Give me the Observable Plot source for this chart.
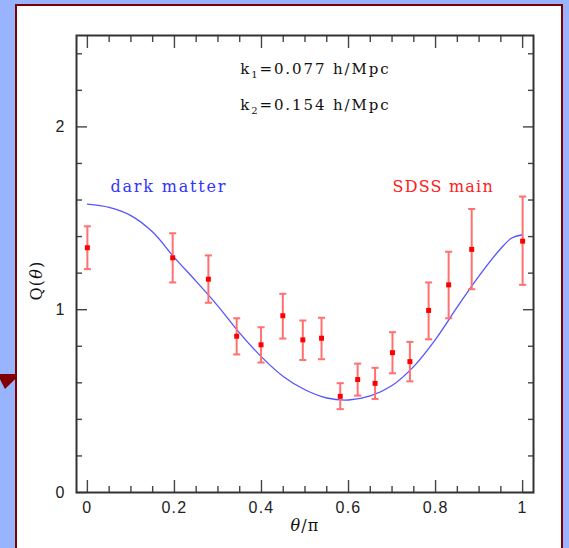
<!DOCTYPE html>
<html><head><meta charset="utf-8">
<script src="https://cdn.jsdelivr.net/npm/d3@7"></script>
<script src="https://cdn.jsdelivr.net/npm/@observablehq/plot@0.6"></script>
<style>
html,body{margin:0;padding:0;width:569px;height:548px;overflow:hidden;background:#99b4ff;}
#panel{position:absolute;left:15px;top:4px;width:544px;height:570px;background:#fff;border:2px solid #800000;}
#arrow{position:absolute;left:0;top:374px;width:15px;height:15px;background:#800000;clip-path:polygon(0 0,100% 0,100% 35%,33% 100%,0 35%);}
#chart{position:absolute;left:0;top:0;}
</style></head>
<body>
<div id="panel"></div>
<div id="arrow"></div>
<div id="chart"></div>
<script>
// Observed SDSS main points (theta/pi, Q, upper, lower)
const thetaObs = [0, 0.196, 0.278, 0.343, 0.399, 0.449, 0.495, 0.538, 0.581, 0.621, 0.661, 0.701, 0.741, 0.784, 0.830, 0.883, 1.0];
const qObs = [1.339, 1.284, 1.167, 0.855, 0.808, 0.967, 0.835, 0.844, 0.526, 0.618, 0.597, 0.765, 0.716, 0.996, 1.136, 1.330, 1.375];
const qHi  = [1.456, 1.418, 1.297, 0.953, 0.904, 1.087, 0.941, 0.956, 0.598, 0.705, 0.682, 0.877, 0.824, 1.149, 1.317, 1.551, 1.619];
const qLo  = [1.222, 1.149, 1.038, 0.755, 0.711, 0.842, 0.725, 0.729, 0.456, 0.530, 0.512, 0.652, 0.608, 0.838, 0.953, 1.112, 1.136];

// Dark matter curve
const thetaDM = [0, 0.05, 0.1, 0.15, 0.2, 0.25, 0.3, 0.35, 0.4, 0.45, 0.5, 0.55, 0.6, 0.65, 0.7, 0.75, 0.8, 0.85, 0.9, 0.95, 0.975, 1.0];
const qDM = [1.578, 1.560, 1.515, 1.425, 1.285, 1.155, 1.02, 0.872, 0.742, 0.635, 0.562, 0.517, 0.506, 0.528, 0.585, 0.69, 0.838, 1.015, 1.185, 1.335, 1.392, 1.41];

// Ticks
const xMajor = [0, 0.2, 0.4, 0.6, 0.8, 1];
const xTickLabels = ["0", "0.2", "0.4", "0.6", "0.8", "1"];
const xMinor = [0.05, 0.1, 0.15, 0.25, 0.3, 0.35, 0.45, 0.5, 0.55, 0.65, 0.7, 0.75, 0.85, 0.9, 0.95];
const yMajor = [0, 1, 2];
const yTickLabels = ["0", "1", "2"];
const yMinor = [0.2, 0.4, 0.6, 0.8, 1.2, 1.4, 1.6, 1.8, 2.2, 2.4];

const obs = thetaObs.map((t, i) => ({t, q: qObs[i], hi: qHi[i], lo: qLo[i]}));
const dm = thetaDM.map((t, i) => ({t, q: qDM[i]}));

const capSymbol = {draw(ctx, size) { const w = Math.sqrt(size); ctx.moveTo(-w, 0); ctx.lineTo(w, 0); }};

const tickStyle = {stroke: "#444", strokeWidth: 1.4, label: null, text: null};
const serif = "DejaVu Serif";

const chart = Plot.plot({
  width: 569, height: 548,
  marginLeft: 76, marginRight: 36, marginTop: 35, marginBottom: 56,
  style: {background: "transparent", fontFamily: "Liberation Sans", fontSize: "16px", color: "#222"},
  x: {domain: [-0.025, 1.025]},
  y: {domain: [0, 2.5]},
  marks: [
    // inward ticks on all four sides
    Plot.axisX(xMajor, {anchor: "bottom", tickSize: -12, ...tickStyle}),
    Plot.axisX(xMinor, {anchor: "bottom", tickSize: -6, ...tickStyle}),
    Plot.axisX(xMajor, {anchor: "top", tickSize: -12, ...tickStyle}),
    Plot.axisX(xMinor, {anchor: "top", tickSize: -6, ...tickStyle}),
    Plot.axisY(yMajor, {anchor: "left", tickSize: -11, ...tickStyle}),
    Plot.axisY(yMinor, {anchor: "left", tickSize: -6, ...tickStyle}),
    Plot.axisY(yMajor, {anchor: "right", tickSize: -11, ...tickStyle}),
    Plot.axisY(yMinor, {anchor: "right", tickSize: -6, ...tickStyle}),
    // tick labels
    Plot.axisX(xMajor, {anchor: "bottom", tickSize: 0, tickPadding: 9, label: null, tickFormat: (d, i) => xTickLabels[i], fill: "#222"}),
    Plot.axisY(yMajor, {anchor: "left", tickSize: 0, tickPadding: 11, label: null, tickFormat: (d, i) => yTickLabels[i], fill: "#222"}),
    Plot.frame({stroke: "#333", strokeWidth: 2}),
    // model
    Plot.line(dm, {x: "t", y: "q", curve: "catmull-rom", stroke: "#5555ff", strokeWidth: 1.3}),
    // error bars
    Plot.ruleX(obs, {x: "t", y1: "lo", y2: "hi", stroke: "#ff7070", strokeWidth: 2}),
    Plot.dot(obs, {x: "t", y: "hi", symbol: capSymbol, r: 2, fill: "none", stroke: "#ff7070", strokeWidth: 2}),
    Plot.dot(obs, {x: "t", y: "lo", symbol: capSymbol, r: 2, fill: "none", stroke: "#ff7070", strokeWidth: 2}),
    Plot.dot(obs, {x: "t", y: "q", symbol: "square", r: 2.8, fill: "#ff0000", stroke: "none"}),
    // annotations
    Plot.text(["dark matter"], {x: 0.053, y: 1.673, text: d => d, textAnchor: "start", fill: "#3333ff", fontFamily: serif, fontSize: 16, className: "dm"}),
    Plot.text(["SDSS main"], {x: 0.701, y: 1.673, text: d => d, textAnchor: "start", fill: "#ff2020", fontFamily: serif, fontSize: 16}),
    Plot.text(["k1=0.077 h/Mpc"], {x: 0.351, y: 2.316, text: d => d, textAnchor: "start", fill: "#111", fontFamily: serif, fontSize: 15, className: "klab"}),
    Plot.text(["k2=0.154 h/Mpc"], {x: 0.351, y: 2.119, text: d => d, textAnchor: "start", fill: "#111", fontFamily: serif, fontSize: 15, className: "klab"}),
    Plot.text(["θ/π"], {x: 0.5, frameAnchor: "bottom", dy: 38, text: d => d, fill: "#111", fontFamily: serif, fontSize: 16, className: "xlab"}),
    Plot.text(["Q(θ)"], {y: 1.05, frameAnchor: "left", dx: -40, rotate: -90, text: d => d, fill: "#111", fontFamily: serif, fontSize: 16, className: "ylab"})
  ]
});
const svg = d3.select(chart);
svg.selectAll("text").style("letter-spacing", "1.2px");
svg.selectAll(".dm text").style("letter-spacing", "1.8px");
// italic theta in axis labels
svg.selectAll(".xlab text, .ylab text").each(function() {
  const s = this.textContent;
  const el = d3.select(this);
  el.text(null);
  for (const ch of s) {
    const t = el.append("tspan").text(ch);
    if (ch === "θ") t.style("font-style", "italic");
  }
});
// subscripts in k labels
svg.selectAll(".klab text").style("letter-spacing", "1.9px").each(function() {
  const s = this.textContent;
  const el = d3.select(this);
  el.text(null);
  el.append("tspan").text(s[0]);
  el.append("tspan").attr("dy", 4).attr("font-size", 10).text(s[1]);
  el.append("tspan").attr("dy", -4).text(s.slice(2));
});
document.getElementById("chart").appendChild(chart);
</script>
</body></html>
